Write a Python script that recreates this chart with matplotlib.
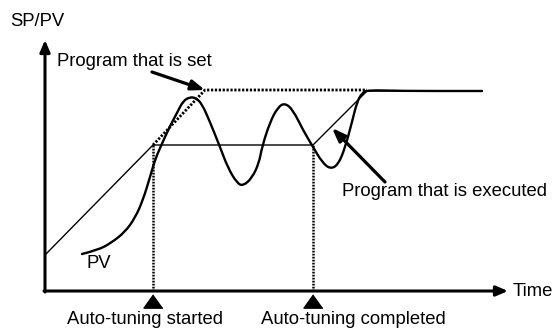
import matplotlib.pyplot as plt
from matplotlib.path import Path
from matplotlib.patches import PathPatch

plt.rcParams['font.family'] = ['Liberation Sans', 'DejaVu Sans']

# 시간축 / 값축 (원점 = 축 교차점)
set_t = [108, 160, 322]
set_v = [146, 201, 201]

run_t = [0, 108, 268, 322, 437]
run_v = [36, 146, 146, 200, 200]

pv_t = [37, 53, 66, 80, 90, 98, 105, 110, 115, 125, 132, 138, 145, 151, 157,
        165, 175, 183, 192, 198, 207, 214, 217, 225, 233, 240, 248, 258, 268,
        277, 285, 293, 300, 307, 312, 317, 323, 355, 437]
pv_v = [37, 41, 48, 59, 73, 91, 114, 131, 143, 165, 178, 190, 194, 193, 187,
        169, 144, 123, 108, 105, 113, 128, 144, 169, 184, 188, 181, 161, 144,
        129, 122, 126, 143, 169, 189, 198, 201, 200, 200]

at_start = 108
at_end = 268


def smooth_path(xs, ys):
    # 읽은 점들을 제어점으로 쓰는 2차 베지어 경로
    pts = list(zip(xs, ys))
    verts = [pts[0]]
    codes = [Path.MOVETO]
    for i in range(1, len(pts) - 1):
        nxt = pts[i + 1]
        mid = ((pts[i][0] + nxt[0]) / 2, (pts[i][1] + nxt[1]) / 2)
        verts += [pts[i], mid]
        codes += [Path.CURVE3, Path.CURVE3]
    verts.append(pts[-1])
    codes.append(Path.LINETO)
    return Path(verts, codes)


fig = plt.figure(figsize=(5.55, 3.29), dpi=100)
ax = fig.add_axes([0, 0, 1, 1])
ax.set_xlim(-45, 510)
ax.set_ylim(-38, 291)
ax.axis('off')

# 축 화살표
axis_arrow = dict(arrowstyle='-|>,head_length=0.7,head_width=0.3', lw=2.2,
                  color='black', shrinkA=0, shrinkB=0)
ax.annotate('', xy=(0, 251), xytext=(0, -1), arrowprops=axis_arrow)
ax.annotate('', xy=(463, 0), xytext=(-1, 0), arrowprops=axis_arrow)

# 설정 프로그램 (점선) / 실행 프로그램 (실선)
ax.plot(set_t, set_v, color='black', lw=2.0, linestyle=(0, (0.8, 0.6)))
ax.plot(run_t, run_v, color='black', lw=1.0)

# PV
ax.add_patch(PathPatch(smooth_path(pv_t, pv_v), fill=False, lw=1.7,
                       edgecolor='black', capstyle='round', joinstyle='round'))

# 오토튜닝 시작/완료 표시
for t in [at_start, at_end]:
    ax.plot([t, t], [0, 146], color='black', lw=1.8, linestyle=(0, (0.7, 0.5)))
tri = [(0, 0.7), (-1, -0.7), (1, -0.7)]
ax.plot([at_start, at_end], [-10, -10], linestyle='none', marker=tri,
        markersize=13.7, color='black')

# 라벨
fs = 13.3
ax.text(-35, 269, 'SP/PV', fontsize=fs, va='center')
ax.text(468, 0, 'Time', fontsize=fs, va='center')
ax.text(41, 27, 'PV', fontsize=fs, va='center')
ax.text(100, -29, 'Auto-tuning started', fontsize=fs, va='center', ha='center')
ax.text(308, -29, 'Auto-tuning completed', fontsize=fs, va='center', ha='center')

pointer = dict(arrowstyle='-|>,head_length=0.8,head_width=0.3', lw=2.3,
               color='black', shrinkA=0, shrinkB=0)
ax.text(12, 229, 'Program that is set', fontsize=fs, va='center')
ax.annotate('', xy=(160, 201), xytext=(107, 219), arrowprops=pointer)
ax.text(297, 99, 'Program that is executed', fontsize=fs, va='center')
ax.annotate('', xy=(287, 163), xytext=(340, 109), arrowprops=pointer)

fig.savefig('out.png', dpi=100)
